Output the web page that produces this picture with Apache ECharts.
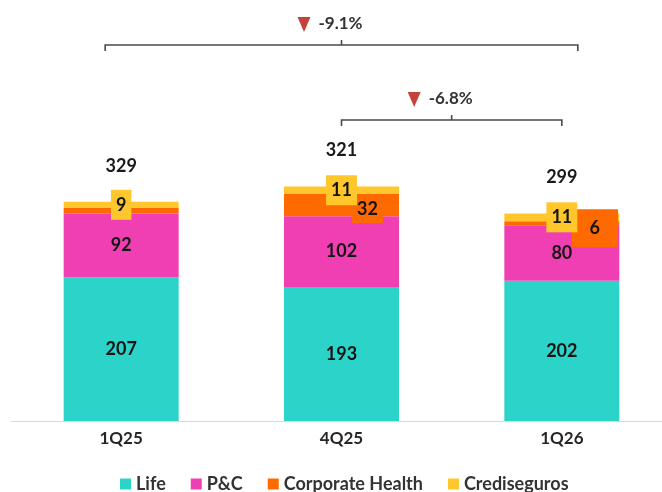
<!DOCTYPE html>
<html>
<head>
<meta charset="utf-8">
<script src="https://cdn.jsdelivr.net/npm/echarts@6/dist/echarts.min.js"></script>
<style>
  html, body { margin: 0; padding: 0; background: #fff; }
  #chart { width: 662px; height: 492px; }
</style>
</head>
<body>
<div id="chart"></div>
<script>
  // data
  const categories = ['1Q25', '4Q25', '1Q26']
  const life = [207, 193, 202]
  const pc = [92, 102, 80]
  const corpHealth = [8, 32, 6]
  const crediseguros = [9, 11, 11]
  const totals = [329, 321, 299]
  const changes = ['-9.1%', '-6.8%']

  const colors = ['#2CD3C9', '#F03FB2', '#FF6A00', '#FFC72C']
  const font = 'Lato'

  const myChart = echarts.init(document.getElementById('chart'))

  const valueLabel = {
    show: true,
    position: 'inside',
    color: '#141414',
    fontFamily: font,
    fontWeight: 'bold',
    fontSize: 18
  }

  // orange boxes sit to the right of the segment
  const corpLabels = [
    { show: false },
    { show: true, offset: [26, 4], backgroundColor: colors[2], padding: [5, 5, 5, 5] },
    { show: true, offset: [33, 5], backgroundColor: colors[2], padding: [10, 18, 10, 18] }
  ]

  const stackTop = categories.map((c, i) => life[i] + pc[i] + corpHealth[i] + crediseguros[i])

  let option = {
    animation: false,
    color: colors,
    grid: {
      left: 11,
      width: 661,
      top: 143.4,
      bottom: 71,
      outerBoundsMode: 'none'
    },
    legend: {
      data: ['Life', 'P&C', 'Corporate Health', 'Crediseguros'],
      left: 115,
      top: 470,
      icon: 'rect',
      itemWidth: 11,
      itemHeight: 11,
      itemGap: 25,
      textStyle: {
        fontFamily: font,
        fontWeight: 'bold',
        fontSize: 18,
        color: '#333'
      }
    },
    xAxis: {
      type: 'category',
      data: categories,
      axisTick: { show: false },
      axisLine: { lineStyle: { color: '#D9D9D9', width: 1 } },
      axisLabel: {
        margin: 9,
        fontFamily: font,
        fontWeight: 'bold',
        fontSize: 17,
        color: '#262626'
      }
    },
    yAxis: {
      type: 'value',
      min: 0,
      max: 400,
      show: false
    },
    series: [
      {
        name: 'Life',
        type: 'bar',
        stack: 'total',
        barWidth: 115,
        data: life,
        label: valueLabel
      },
      {
        name: 'P&C',
        type: 'bar',
        stack: 'total',
        data: pc,
        label: valueLabel
      },
      {
        name: 'Corporate Health',
        type: 'bar',
        stack: 'total',
        data: corpHealth.map((v, i) => ({ value: v, label: corpLabels[i] })),
        label: valueLabel
      },
      {
        name: 'Crediseguros',
        type: 'bar',
        stack: 'total',
        data: crediseguros,
        label: Object.assign({}, valueLabel, {
          backgroundColor: colors[3],
          padding: [6, 5, 6, 5]
        })
      },
      {
        // totals above each bar
        name: 'total',
        type: 'scatter',
        symbolSize: 0,
        data: stackTop,
        itemStyle: { opacity: 1 },
        label: {
          show: true,
          position: 'top',
          distance: 27,
          opacity: 1,
          color: '#1a1a1a',
          fontFamily: font,
          fontWeight: 'bold',
          fontSize: 18,
          formatter: (p) => totals[p.dataIndex]
        },
        z: 10
      }
    ]
  }

  myChart.setOption(option)

  // brackets with the change labels
  const px = (c) => myChart.convertToPixel({ xAxisIndex: 0 }, c)
  const bracket = (x1, x2, y, text) => {
    const cx = (x1 + x2) / 2
    const line = { stroke: '#4a4a4a', lineWidth: 1.6, fill: null }
    return [
      { type: 'polyline', shape: { points: [[x1, y + 6], [x1, y], [x2, y], [x2, y + 6]] }, style: line },
      { type: 'line', shape: { x1: cx, y1: y, x2: cx, y2: y - 5 }, style: line },
      {
        type: 'polygon',
        shape: { points: [[cx - 44, y - 28], [cx - 31, y - 28], [cx - 37.5, y - 13]] },
        style: { fill: '#C4413C' }
      },
      {
        type: 'text',
        x: cx - 23,
        y: y - 21,
        style: {
          text: text,
          fontFamily: font,
          fontWeight: 'bold',
          fontSize: 17,
          fill: '#333',
          verticalAlign: 'middle'
        }
      }
    ]
  }

  myChart.setOption({
    graphic: [].concat(
      bracket(px('1Q25') - 16, px('1Q26') + 16, 45, changes[0]),
      bracket(px('4Q25'), px('1Q26'), 120, changes[1])
    )
  })

  window.addEventListener('resize', () => {
    myChart.resize()
  })
</script>
</body>
</html>
